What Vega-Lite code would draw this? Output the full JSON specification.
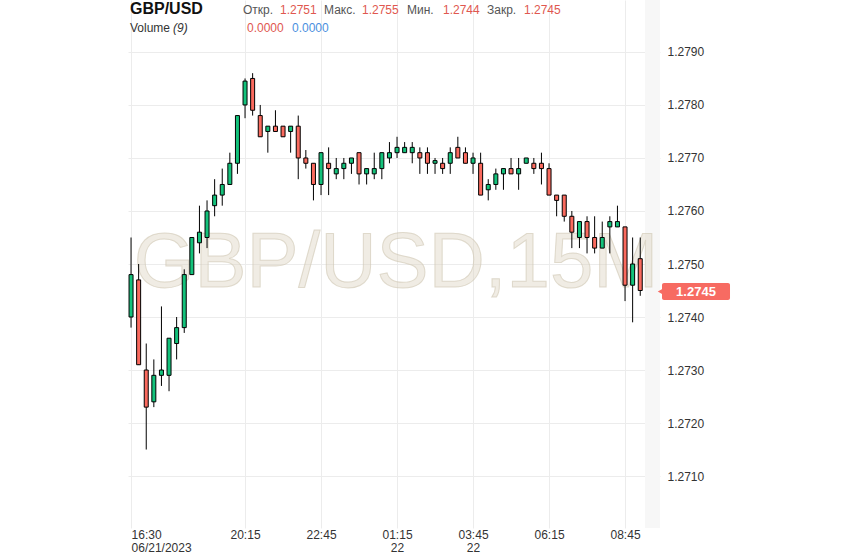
{
  "$schema": "https://vega.github.io/schema/vega-lite/v6.json",
  "width": 532,
  "height": 528,
  "autosize": {"type": "none"},
  "padding": {"left": 128, "top": 0, "right": 183, "bottom": 30},
  "background": "white",
  "config": {"view": {"stroke": null}, "font": "Liberation Sans", "text": {"font": "Liberation Sans"}},
  "datasets": {
    "candles": [
      {"t":"2023-06-21T16:30:00","o":1.2740,"h":1.2755,"l":1.2738,"c":1.2748},
      {"t":"2023-06-21T16:45:00","o":1.2747,"h":1.2750,"l":1.2731,"c":1.2731},
      {"t":"2023-06-21T17:00:00","o":1.2730,"h":1.2735,"l":1.2715,"c":1.2723},
      {"t":"2023-06-21T17:15:00","o":1.2724,"h":1.2732,"l":1.2723,"c":1.2729},
      {"t":"2023-06-21T17:30:00","o":1.2729,"h":1.2742,"l":1.2727,"c":1.2730},
      {"t":"2023-06-21T17:45:00","o":1.2729,"h":1.2736,"l":1.2726,"c":1.2736},
      {"t":"2023-06-21T18:00:00","o":1.2735,"h":1.2740,"l":1.2732,"c":1.2738},
      {"t":"2023-06-21T18:15:00","o":1.2738,"h":1.2749,"l":1.2737,"c":1.2748},
      {"t":"2023-06-21T18:30:00","o":1.2748,"h":1.2755,"l":1.2748,"c":1.2755},
      {"t":"2023-06-21T18:45:00","o":1.2754,"h":1.2761,"l":1.2752,"c":1.2756},
      {"t":"2023-06-21T19:00:00","o":1.2755,"h":1.2762,"l":1.2753,"c":1.2760},
      {"t":"2023-06-21T19:15:00","o":1.2761,"h":1.2766,"l":1.2759,"c":1.2763},
      {"t":"2023-06-21T19:30:00","o":1.2763,"h":1.2768,"l":1.2761,"c":1.2765},
      {"t":"2023-06-21T19:45:00","o":1.2765,"h":1.2771,"l":1.2765,"c":1.2769},
      {"t":"2023-06-21T20:00:00","o":1.2769,"h":1.2778,"l":1.2767,"c":1.2778},
      {"t":"2023-06-21T20:15:00","o":1.2780,"h":1.2785,"l":1.27775,"c":1.27845},
      {"t":"2023-06-21T20:30:00","o":1.2785,"h":1.2786,"l":1.2778,"c":1.2779},
      {"t":"2023-06-21T20:45:00","o":1.2778,"h":1.2780,"l":1.2774,"c":1.2774},
      {"t":"2023-06-21T21:00:00","o":1.2775,"h":1.2776,"l":1.2771,"c":1.2776},
      {"t":"2023-06-21T21:15:00","o":1.2776,"h":1.2779,"l":1.2775,"c":1.2775},
      {"t":"2023-06-21T21:30:00","o":1.2776,"h":1.2776,"l":1.2774,"c":1.2774},
      {"t":"2023-06-21T21:45:00","o":1.2775,"h":1.2776,"l":1.2771,"c":1.2776},
      {"t":"2023-06-21T22:00:00","o":1.2776,"h":1.2778,"l":1.2766,"c":1.2770},
      {"t":"2023-06-21T22:15:00","o":1.2770,"h":1.27715,"l":1.2768,"c":1.2769},
      {"t":"2023-06-21T22:30:00","o":1.2769,"h":1.2769,"l":1.2762,"c":1.2765},
      {"t":"2023-06-21T22:45:00","o":1.2765,"h":1.2771,"l":1.2763,"c":1.2771},
      {"t":"2023-06-21T23:00:00","o":1.2769,"h":1.2772,"l":1.2763,"c":1.2768},
      {"t":"2023-06-21T23:15:00","o":1.2767,"h":1.2770,"l":1.2766,"c":1.2768},
      {"t":"2023-06-21T23:30:00","o":1.2768,"h":1.2770,"l":1.2766,"c":1.2769},
      {"t":"2023-06-21T23:45:00","o":1.2769,"h":1.2770,"l":1.2767,"c":1.2770},
      {"t":"2023-06-22T00:00:00","o":1.2771,"h":1.2771,"l":1.2765,"c":1.2767},
      {"t":"2023-06-22T00:15:00","o":1.2767,"h":1.2768,"l":1.2765,"c":1.2768},
      {"t":"2023-06-22T00:30:00","o":1.2767,"h":1.2771,"l":1.2766,"c":1.2768},
      {"t":"2023-06-22T00:45:00","o":1.2768,"h":1.2771,"l":1.2766,"c":1.2771},
      {"t":"2023-06-22T01:00:00","o":1.2770,"h":1.2773,"l":1.2769,"c":1.2771},
      {"t":"2023-06-22T01:15:00","o":1.2771,"h":1.2774,"l":1.2770,"c":1.2772},
      {"t":"2023-06-22T01:30:00","o":1.2771,"h":1.2773,"l":1.2771,"c":1.2772},
      {"t":"2023-06-22T01:45:00","o":1.2771,"h":1.2773,"l":1.2769,"c":1.2772},
      {"t":"2023-06-22T02:00:00","o":1.2771,"h":1.2772,"l":1.2767,"c":1.2770},
      {"t":"2023-06-22T02:15:00","o":1.2771,"h":1.2772,"l":1.2767,"c":1.2769},
      {"t":"2023-06-22T02:30:00","o":1.2769,"h":1.2770,"l":1.2767,"c":1.27695},
      {"t":"2023-06-22T02:45:00","o":1.2769,"h":1.2770,"l":1.2767,"c":1.2768},
      {"t":"2023-06-22T03:00:00","o":1.2769,"h":1.2772,"l":1.2767,"c":1.2771},
      {"t":"2023-06-22T03:15:00","o":1.2772,"h":1.2774,"l":1.2770,"c":1.2770},
      {"t":"2023-06-22T03:30:00","o":1.2771,"h":1.2772,"l":1.2769,"c":1.2769},
      {"t":"2023-06-22T03:45:00","o":1.2769,"h":1.2771,"l":1.2767,"c":1.2770},
      {"t":"2023-06-22T04:00:00","o":1.2769,"h":1.2771,"l":1.2763,"c":1.2763},
      {"t":"2023-06-22T04:15:00","o":1.2764,"h":1.2766,"l":1.2762,"c":1.2765},
      {"t":"2023-06-22T04:30:00","o":1.2765,"h":1.2768,"l":1.2764,"c":1.2767},
      {"t":"2023-06-22T04:45:00","o":1.2767,"h":1.2768,"l":1.2764,"c":1.2768},
      {"t":"2023-06-22T05:00:00","o":1.2768,"h":1.2770,"l":1.2767,"c":1.2767},
      {"t":"2023-06-22T05:15:00","o":1.2767,"h":1.2770,"l":1.2764,"c":1.2768},
      {"t":"2023-06-22T05:30:00","o":1.2769,"h":1.2770,"l":1.2769,"c":1.2770},
      {"t":"2023-06-22T05:45:00","o":1.2769,"h":1.2770,"l":1.2767,"c":1.2768},
      {"t":"2023-06-22T06:00:00","o":1.2769,"h":1.2771,"l":1.2765,"c":1.2768},
      {"t":"2023-06-22T06:15:00","o":1.2768,"h":1.2769,"l":1.2763,"c":1.2763},
      {"t":"2023-06-22T06:30:00","o":1.2763,"h":1.2763,"l":1.2759,"c":1.2762},
      {"t":"2023-06-22T06:45:00","o":1.2763,"h":1.2763,"l":1.2758,"c":1.2759},
      {"t":"2023-06-22T07:00:00","o":1.2759,"h":1.2760,"l":1.2753,"c":1.2756},
      {"t":"2023-06-22T07:15:00","o":1.2755,"h":1.2758,"l":1.2753,"c":1.2758},
      {"t":"2023-06-22T07:30:00","o":1.2758,"h":1.2759,"l":1.2752,"c":1.2755},
      {"t":"2023-06-22T07:45:00","o":1.2755,"h":1.2759,"l":1.2752,"c":1.2753},
      {"t":"2023-06-22T08:00:00","o":1.2753,"h":1.2758,"l":1.2753,"c":1.2755},
      {"t":"2023-06-22T08:15:00","o":1.2757,"h":1.2759,"l":1.2752,"c":1.2758},
      {"t":"2023-06-22T08:30:00","o":1.2757,"h":1.2761,"l":1.2757,"c":1.2758},
      {"t":"2023-06-22T08:45:00","o":1.2757,"h":1.2757,"l":1.2743,"c":1.2746},
      {"t":"2023-06-22T09:00:00","o":1.2746,"h":1.2755,"l":1.2739,"c":1.2750},
      {"t":"2023-06-22T09:15:00","o":1.2751,"h":1.2755,"l":1.2744,"c":1.2745}
    ],
    "one": [{}]
  },
  "layer": [
    {
      "data": {"name": "candles"},
      "mark": {"type": "rule", "color": "#000", "strokeWidth": 1, "opacity": 0},
      "encoding": {
        "x": {"field": "t", "type": "temporal",
          "scale": {"domain": [{"year":2023,"month":6,"date":21,"hours":16,"minutes":24},{"year":2023,"month":6,"date":22,"hours":9,"minutes":54}], "nice": false, "padding": 0},
          "axis": {"title": null, "orient": "bottom",
            "values": [
              {"year":2023,"month":6,"date":21,"hours":16,"minutes":30},
              {"year":2023,"month":6,"date":21,"hours":20,"minutes":15},
              {"year":2023,"month":6,"date":21,"hours":22,"minutes":45},
              {"year":2023,"month":6,"date":22,"hours":1,"minutes":15},
              {"year":2023,"month":6,"date":22,"hours":3,"minutes":45},
              {"year":2023,"month":6,"date":22,"hours":6,"minutes":15},
              {"year":2023,"month":6,"date":22,"hours":8,"minutes":45}
            ],
            "labelExpr": "hours(datum.value) == 16 ? [timeFormat(datum.value, '%H:%M'), timeFormat(datum.value, '%m/%d/%Y')] : (hours(datum.value) == 1 || hours(datum.value) == 3) ? [timeFormat(datum.value, '%H:%M'), timeFormat(datum.value, '%d')] : timeFormat(datum.value, '%H:%M')",
            "grid": true, "gridColor": "#ececec", "gridWidth": 1,
            "ticks": false, "tickSize": 0, "domain": false,
            "labelFont": "Liberation Sans", "labelFontSize": 12, "labelColor": "#333",
            "labelPadding": 1, "labelFlush": 5, "labelLineHeight": 13, "labelOverlap": false, "labelBound": false}},
        "y": {"field": "l", "type": "quantitative",
          "scale": {"domain": [1.27002, 1.27998], "nice": false, "zero": false, "padding": 0},
          "axis": {"title": null, "orient": "right",
            "values": [1.271, 1.272, 1.273, 1.274, 1.275, 1.276, 1.277, 1.278, 1.279],
            "format": ".4f", "grid": true, "gridColor": "#ececec", "gridWidth": 1,
            "ticks": false, "tickSize": 0, "domain": false,
            "labelFont": "Liberation Sans", "labelFontSize": 12, "labelColor": "#333",
            "labelPadding": 7, "labelOverlap": false}},
        "y2": {"field": "h"}
      }
    },
    {
      "data": {"name": "one"},
      "mark": {"type": "rect", "fill": "#f7f7f7"},
      "encoding": {
        "x": {"datum": {"year":2023,"month":6,"date":22,"hours":9,"minutes":24,"seconds":24}, "type": "temporal"},
        "x2": {"datum": {"year":2023,"month":6,"date":22,"hours":9,"minutes":54}},
        "y": {"datum": 1.27002, "type": "quantitative"},
        "y2": {"datum": 1.27998}
      }
    },
    {
      "data": {"name": "one"},
      "mark": {"type": "text", "text": "GBP/USD,15M", "align": "center", "baseline": "alphabetic", "fontSize": 78, "fill": "#ddd5c3", "fillOpacity": 0.45, "stroke": "#cfc7b3", "strokeOpacity": 0.6, "strokeWidth": 1},
      "encoding": {
        "x": {"datum": {"year":2023,"month":6,"date":22,"hours":1,"minutes":12,"seconds":57}, "type": "temporal"},
        "y": {"datum": 1.274566, "type": "quantitative"}
      }
    },
    {
      "data": {"name": "candles"},
      "mark": {"type": "rule", "color": "#000", "strokeWidth": 1},
      "encoding": {
        "x": {"field": "t", "type": "temporal"},
        "y": {"field": "l", "type": "quantitative"},
        "y2": {"field": "h"}
      }
    },
    {
      "data": {"name": "candles"},
      "mark": {"type": "bar", "orient": "vertical", "size": 4, "stroke": "#000", "strokeWidth": 1},
      "encoding": {
        "x": {"field": "t", "type": "temporal"},
        "y": {"field": "o", "type": "quantitative"},
        "y2": {"field": "c"},
        "fill": {"condition": {"test": "datum.c >= datum.o", "value": "#13c27b"}, "value": "#fa6a5e"}
      }
    },
    {
      "data": {"name": "one"},
      "mark": {"type": "text", "text": "GBP/USD", "align": "left", "baseline": "alphabetic", "fontSize": 16, "fontWeight": "bold", "fill": "#111"},
      "encoding": {
        "x": {"datum": {"year":2023,"month":6,"date":21,"hours":16,"minutes":27,"seconds":57}, "type": "temporal"},
        "y": {"datum": 1.279725, "type": "quantitative"}
      }
    },
    {
      "data": {"name": "one"},
      "mark": {"type": "text", "text": "Откр.", "align": "left", "baseline": "alphabetic", "fontSize": 12, "fill": "#555"},
      "encoding": {
        "x": {"datum": {"year":2023,"month":6,"date":21,"hours":20,"minutes":10,"seconds":58}, "type": "temporal"},
        "y": {"datum": 1.279725, "type": "quantitative"}
      }
    },
    {
      "data": {"name": "one"},
      "mark": {"type": "text", "text": "1.2751", "align": "left", "baseline": "alphabetic", "fontSize": 12, "fill": "#e0574f"},
      "encoding": {
        "x": {"datum": {"year":2023,"month":6,"date":21,"hours":21,"minutes":24}, "type": "temporal"},
        "y": {"datum": 1.279725, "type": "quantitative"}
      }
    },
    {
      "data": {"name": "one"},
      "mark": {"type": "text", "text": "Макс.", "align": "left", "baseline": "alphabetic", "fontSize": 12, "fill": "#555"},
      "encoding": {
        "x": {"datum": {"year":2023,"month":6,"date":21,"hours":22,"minutes":50,"seconds":50}, "type": "temporal"},
        "y": {"datum": 1.279725, "type": "quantitative"}
      }
    },
    {
      "data": {"name": "one"},
      "mark": {"type": "text", "text": "1.2755", "align": "left", "baseline": "alphabetic", "fontSize": 12, "fill": "#e0574f"},
      "encoding": {
        "x": {"datum": {"year":2023,"month":6,"date":22,"hours":0,"minutes":5,"seconds":50}, "type": "temporal"},
        "y": {"datum": 1.279725, "type": "quantitative"}
      }
    },
    {
      "data": {"name": "one"},
      "mark": {"type": "text", "text": "Мин.", "align": "left", "baseline": "alphabetic", "fontSize": 12, "fill": "#555"},
      "encoding": {
        "x": {"datum": {"year":2023,"month":6,"date":22,"hours":1,"minutes":34,"seconds":39}, "type": "temporal"},
        "y": {"datum": 1.279725, "type": "quantitative"}
      }
    },
    {
      "data": {"name": "one"},
      "mark": {"type": "text", "text": "1.2744", "align": "left", "baseline": "alphabetic", "fontSize": 12, "fill": "#e0574f"},
      "encoding": {
        "x": {"datum": {"year":2023,"month":6,"date":22,"hours":2,"minutes":45,"seconds":43}, "type": "temporal"},
        "y": {"datum": 1.279725, "type": "quantitative"}
      }
    },
    {
      "data": {"name": "one"},
      "mark": {"type": "text", "text": "Закр.", "align": "left", "baseline": "alphabetic", "fontSize": 12, "fill": "#555"},
      "encoding": {
        "x": {"datum": {"year":2023,"month":6,"date":22,"hours":4,"minutes":12,"seconds":33}, "type": "temporal"},
        "y": {"datum": 1.279725, "type": "quantitative"}
      }
    },
    {
      "data": {"name": "one"},
      "mark": {"type": "text", "text": "1.2745", "align": "left", "baseline": "alphabetic", "fontSize": 12, "fill": "#e0574f"},
      "encoding": {
        "x": {"datum": {"year":2023,"month":6,"date":22,"hours":5,"minutes":25,"seconds":35}, "type": "temporal"},
        "y": {"datum": 1.279725, "type": "quantitative"}
      }
    },
    {
      "data": {"name": "one"},
      "mark": {"type": "text", "text": "Volume", "align": "left", "baseline": "alphabetic", "fontSize": 12, "fill": "#333"},
      "encoding": {
        "x": {"datum": {"year":2023,"month":6,"date":21,"hours":16,"minutes":27,"seconds":57}, "type": "temporal"},
        "y": {"datum": 1.279367, "type": "quantitative"}
      }
    },
    {
      "data": {"name": "one"},
      "mark": {"type": "text", "text": "(9)", "align": "left", "baseline": "alphabetic", "fontSize": 12, "fontStyle": "italic", "fill": "#333"},
      "encoding": {
        "x": {"datum": {"year":2023,"month":6,"date":21,"hours":17,"minutes":52,"seconds":49}, "type": "temporal"},
        "y": {"datum": 1.279367, "type": "quantitative"}
      }
    },
    {
      "data": {"name": "one"},
      "mark": {"type": "text", "text": "0.0000", "align": "left", "baseline": "alphabetic", "fontSize": 12, "fill": "#e0574f"},
      "encoding": {
        "x": {"datum": {"year":2023,"month":6,"date":21,"hours":20,"minutes":18,"seconds":52}, "type": "temporal"},
        "y": {"datum": 1.279367, "type": "quantitative"}
      }
    },
    {
      "data": {"name": "one"},
      "mark": {"type": "text", "text": "0.0000", "align": "left", "baseline": "alphabetic", "fontSize": 12, "fill": "#4a8fe0"},
      "encoding": {
        "x": {"datum": {"year":2023,"month":6,"date":21,"hours":21,"minutes":47,"seconds":41}, "type": "temporal"},
        "y": {"datum": 1.279367, "type": "quantitative"}
      }
    },
    {
      "data": {"name": "one"},
      "mark": {"type": "point", "shape": "triangle-left", "size": 40, "filled": true, "fill": "#f76b62", "opacity": 1, "strokeWidth": 0},
      "encoding": {
        "x": {"datum": {"year":2023,"month":6,"date":22,"hours":9,"minutes":55}, "type": "temporal"},
        "y": {"datum": 1.27448, "type": "quantitative"}
      }
    },
    {
      "data": {"name": "one"},
      "mark": {"type": "rect", "fill": "#f76b62", "cornerRadius": 2},
      "encoding": {
        "x": {"datum": {"year":2023,"month":6,"date":22,"hours":9,"minutes":57,"seconds":57}, "type": "temporal"},
        "x2": {"datum": {"year":2023,"month":6,"date":22,"hours":12,"minutes":12,"seconds":10}},
        "y": {"datum": 1.274642, "type": "quantitative"},
        "y2": {"datum": 1.274321}
      }
    },
    {
      "data": {"name": "one"},
      "mark": {"type": "text", "text": "1.2745", "align": "center", "baseline": "middle", "fontSize": 13, "fontWeight": "bold", "fill": "#ffffff"},
      "encoding": {
        "x": {"datum": {"year":2023,"month":6,"date":22,"hours":11,"minutes":5,"seconds":3}, "type": "temporal"},
        "y": {"datum": 1.27448, "type": "quantitative"}
      }
    }
  ]
}
